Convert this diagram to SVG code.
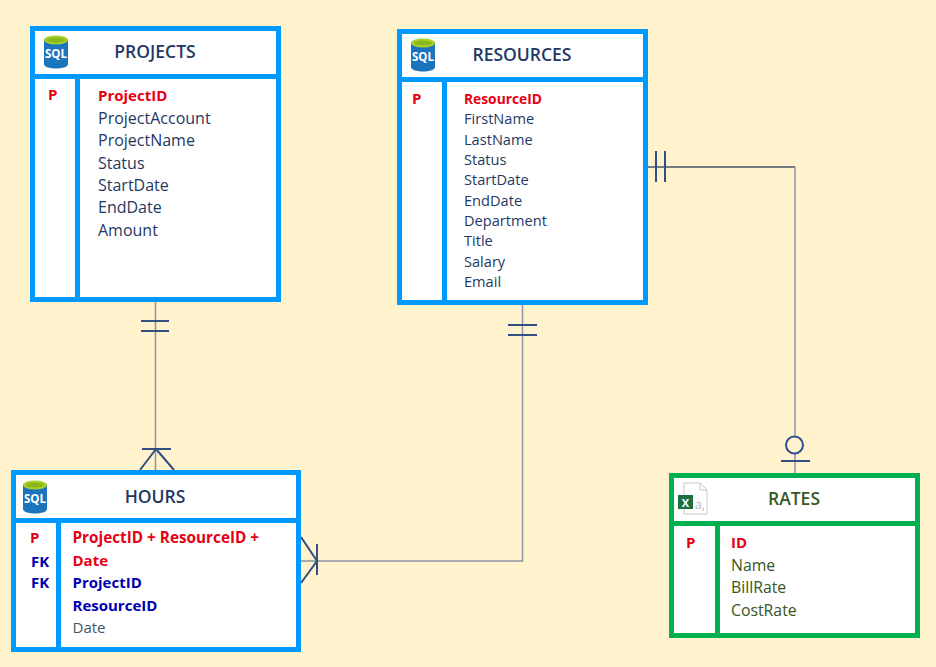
<svg xmlns="http://www.w3.org/2000/svg" width="936" height="667" viewBox="0 0 936 667">
<style>
text{font-family:"Open Sans","Noto Sans","Liberation Sans",sans-serif;font-size:15px}
.b{fill:#fff;stroke:#0099ff;stroke-width:5}
.g{fill:#fff;stroke:#00b050;stroke-width:5}
.sb{fill:none;stroke:#0099ff;stroke-width:5}
.sg{fill:none;stroke:#00b050;stroke-width:5}
.t{font-size:17.500px;font-weight:600;fill:#1f3864;text-anchor:middle}
.tg{font-size:17.500px;font-weight:600;fill:#375623;text-anchor:middle}
.f{fill:#1f3864}.fg{fill:#375623;font-size:15.800px}.fd{fill:#44546a}
.p{font-size:16px}.q{font-size:14.600px}
.r{fill:#e60012;font-weight:700}
.n{fill:#0000b0;font-weight:700}
.c{fill:none;stroke:#8a94a6;stroke-width:1.5}
.d{fill:none;stroke:#2f5080;stroke-width:2}
.dt{fill:none;stroke:#44546a;stroke-width:1.5}
</style>
<defs>
<g id="sql">
<path d="M0 5C0 1 24 1 24 5V29C24 35 0 35 0 29Z" fill="#1b75bc"/>
<ellipse cx="12" cy="5" rx="12" ry="4.500" fill="#a8d02a"/>
<ellipse cx="12" cy="5" rx="9" ry="2.600" fill="#8ab81a"/>
<text x="12" y="23" text-anchor="middle" fill="#fff" style="font-size:11.500px;font-weight:700">SQL</text>
</g>
</defs>
<rect width="936" height="667" fill="#fff2cc"/>
<g id="connectors">
<path class="c" d="M155.500 302V470"/>
<path class="d" d="M141 321H169M141 331H169M142 449H171M156 449L140 470M156 449L174 470"/>
<path class="c" d="M522.500 305V561H301"/>
<path class="d" d="M508 325H537M508 335H537M317 544V575M301 537L317 561L301 583"/>
<path class="dt" d="M648 167H795"/>
<path class="c" d="M795 167V473"/>
<path class="d" d="M656 151V182M665 151V182M781 461H810"/>
<circle cx="794.500" cy="445" r="8.500" fill="#fff2cc" stroke="#2f5090" stroke-width="2"/>
</g>
<g id="projects">
<rect class="b" x="32.500" y="28.500" width="246" height="271"/>
<path class="sb" d="M32 76.500H279M77.500 77V300"/>
<use href="#sql" x="44" y="35"/>
<text class="t" x="155" y="58">PROJECTS</text>
<text class="r" x="48" y="100">P</text>
<text class="r" x="98" y="101">ProjectID</text>
<text class="f p" x="98" y="124">ProjectAccount</text>
<text class="f p" x="98" y="146">ProjectName</text>
<text class="f p" x="98" y="169">Status</text>
<text class="f p" x="98" y="191">StartDate</text>
<text class="f p" x="98" y="213">EndDate</text>
<text class="f p" x="98" y="236">Amount</text>
</g>
<g id="resources">
<rect class="b" x="399.500" y="31.500" width="246" height="271"/>
<path class="sb" d="M399 79.500H646M444.500 80V303"/>
<use href="#sql" x="411" y="38"/>
<text class="t" x="522" y="61">RESOURCES</text>
<text class="r" x="412" y="104">P</text>
<text class="r" x="464" y="104" style="font-size:13.800px">ResourceID</text>
<text class="f q" x="464" y="124">FirstName</text>
<text class="f q" x="464" y="145">LastName</text>
<text class="f q" x="464" y="165">Status</text>
<text class="f q" x="464" y="185">StartDate</text>
<text class="f q" x="464" y="206">EndDate</text>
<text class="f q" x="464" y="226">Department</text>
<text class="f q" x="464" y="246">Title</text>
<text class="f q" x="464" y="267">Salary</text>
<text class="f q" x="464" y="287">Email</text>
</g>
<g id="hours">
<rect class="b" x="13.500" y="472.500" width="285" height="177"/>
<path class="sb" d="M13 520.500H299M58.500 521V650"/>
<use href="#sql" x="23" y="480"/>
<text class="t" x="155" y="503">HOURS</text>
<text class="r" x="30" y="543">P</text>
<text class="n" x="31" y="567">FK</text>
<text class="n" x="31" y="588">FK</text>
<text class="r" x="72.500" y="543" style="font-size:15.300px">ProjectID + ResourceID +</text>
<text class="r" x="72.500" y="566">Date</text>
<text class="n" x="72.500" y="588">ProjectID</text>
<text class="n" x="72.500" y="611">ResourceID</text>
<text class="fd" x="72.500" y="633">Date</text>
</g>
<g id="rates">
<rect class="g" x="671.500" y="475.500" width="246" height="160"/>
<path class="sg" d="M671 523.500H918M717.500 524V636"/>
<path d="M684 483H700L707 490V514H684Z" fill="#fff" stroke="#c8c8c8"/>
<path d="M700 483V490H707" fill="none" stroke="#c8c8c8"/>
<rect x="678" y="495" width="15" height="14" fill="#1d6f42"/>
<text x="685.500" y="506.500" text-anchor="middle" fill="#fff" style="font-size:11px;font-weight:700">X</text>
<text x="695" y="509" fill="#b4bcc4" style="font-size:12px">a,</text>
<text class="tg" x="794" y="505">RATES</text>
<text class="r" x="686" y="548">P</text>
<text class="r" x="731" y="548">ID</text>
<text class="fg" x="731" y="571">Name</text>
<text class="fg" x="731" y="593">BillRate</text>
<text class="fg" x="731" y="616">CostRate</text>
</g>
</svg>
